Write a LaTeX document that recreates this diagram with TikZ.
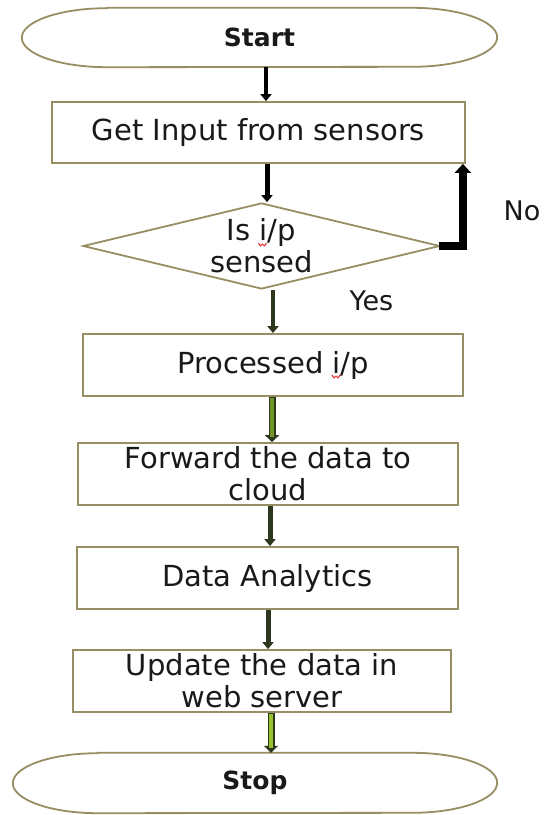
\documentclass[tikz,border=0pt]{standalone}
\usepackage{fontspec}
\setmainfont{DejaVu Sans}
\usetikzlibrary{shapes.geometric,arrows.meta}
\definecolor{edge}{RGB}{152,142,100}
\definecolor{txt}{RGB}{25,25,25}
\definecolor{darkol}{RGB}{45,55,30}
\definecolor{grA}{RGB}{112,150,38}
\definecolor{grB}{RGB}{150,195,45}
\definecolor{spell}{RGB}{230,40,40}
\tikzset{
  procbox/.style={draw=edge, line width=1.8pt, rectangle, inner sep=0pt, align=center,
    text=txt, font=\fontsize{29}{32}\selectfont},
  termnode/.style={rectangle, inner sep=0pt, text=txt, font=\bfseries\fontsize{25}{28}\selectfont},
  decbox/.style={draw=edge, line width=1.8pt, diamond, shape aspect=4.2, inner sep=0pt,
    align=center, text=txt, font=\fontsize{29}{32}\selectfont},
  lbl/.style={text=txt, inner sep=0pt, font=\fontsize{27}{30}\selectfont},
  blackarr/.style={draw=black, -{Triangle[length=7pt,width=11pt]}},
  darkarr/.style={draw=darkol, line width=5pt, -{Triangle[length=7pt,width=11pt]}},
  greenarr/.style={draw=darkol, line width=7pt, -{Triangle[length=7pt,width=14pt]},
    postaction={draw=#1, line width=4pt, shorten >=5pt, shorten <=1pt, -}},
  squig/.style={draw=spell, line width=1pt, line join=round},
}
\newcommand{\termoutline}[2]{%
  \draw[edge, line width=1.8pt]
    ([xshift=85pt]#1.north west) -- ([xshift=-85pt]#1.north east)
    arc[start angle=90, end angle=-90, x radius=85pt, y radius=#2]
    -- ([xshift=85pt]#1.south west)
    arc[start angle=270, end angle=90, x radius=85pt, y radius=#2] -- cycle;}
\begin{document}
\begin{tikzpicture}[x=1pt,y=-1pt]
\useasboundingbox[fill=white] (0,0) rectangle (548,815);

\node[termnode, minimum width=475pt, minimum height=59pt] (start) at (259.5,37.5) {Start};
\termoutline{start}{29.5pt}

\node[procbox, minimum width=413pt, minimum height=61pt] (get) at (258.5,132.5) {Get Input from sensors};

\node[decbox, minimum width=357pt, minimum height=86pt] (dec) at (261.5,246) {Is i/p\\sensed};

\node[procbox, minimum width=380pt, minimum height=62pt] (proc) at (273,365) {Processed i/p};

\node[procbox, minimum width=380pt, minimum height=62pt] (fwd) at (268,474) {Forward the data to\\cloud};

\node[procbox, minimum width=381pt, minimum height=62pt] (da) at (267.5,578) {Data Analytics};

\node[procbox, minimum width=378pt, minimum height=62pt] (upd) at (262,681) {Update the data in\\web server};

\node[termnode, minimum width=484pt, minimum height=60pt] (stop) at (255,783) {Stop};
\termoutline{stop}{30pt}

\node[lbl] (no) at (522,211) {No};
\node[lbl] (yes) at (371.5,301) {Yes};

% spell-check marks under the letter i
\draw[squig] (258.5,243) -- (260.5,246) -- (262.5,244) -- (264.5,246) -- (266.5,243);
\draw[squig] (332,375) -- (334,378) -- (336,376) -- (338,378) -- (340,375);

\draw[blackarr, line width=4pt] ([xshift=6.5pt]start.south) -- ([xshift=7.5pt]get.north);
\draw[blackarr, line width=5pt] ([xshift=8.5pt]get.south) -- ([xshift=5.5pt]dec.north);
\draw[draw=black, line width=8pt, -{Triangle[length=9pt,width=16pt]}]
  ([xshift=-2pt]dec.east) -| ([xshift=-3pt]get.south east);
\draw[darkarr, line width=4pt] (dec.south -| proc.north) -- (proc.north);
\draw[greenarr=grA] ([xshift=-1pt]proc.south) -- ([xshift=4pt]fwd.north);
\draw[darkarr] ([xshift=2pt]fwd.south) -- ([xshift=2.5pt]da.north);
\draw[darkarr] ([xshift=0.5pt]da.south) -- ([xshift=6pt]upd.north);
\draw[greenarr=grB] ([xshift=9pt]upd.south) -- ([xshift=16pt]stop.north);
\end{tikzpicture}
\end{document}
